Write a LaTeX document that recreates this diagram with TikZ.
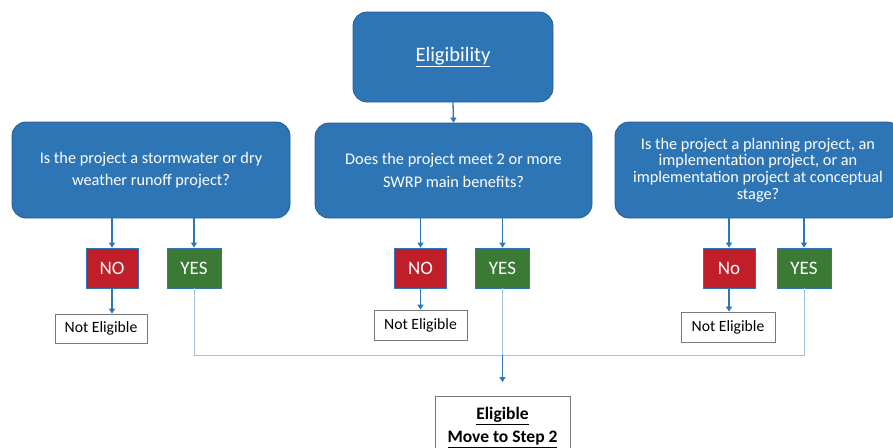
\documentclass[tikz,border=0pt]{standalone}
\usepackage{fontspec}
\setmainfont{Carlito}
\usetikzlibrary{arrows.meta}
\definecolor{boxblue}{RGB}{46,117,182}
\definecolor{boxedge}{RGB}{36,94,150}
\definecolor{nored}{RGB}{192,30,40}
\definecolor{yesgreen}{RGB}{58,122,52}
\definecolor{lineblue}{RGB}{160,195,225}
\definecolor{edgegray}{RGB}{120,120,120}
\tikzset{
  qbox/.style={draw=boxedge, line width=0.8pt, fill=boxblue, rounded corners=14pt, text=white, font=\fontsize{16.3}{22.5}\selectfont, align=center, inner sep=0pt},
  nobox/.style={draw=boxblue, line width=0.8pt, fill=nored, text=white, minimum width=52pt, minimum height=40pt, inner sep=0pt, font=\fontsize{19}{22}\selectfont},
  yesbox/.style={draw=boxblue, line width=0.8pt, fill=yesgreen, text=white, minimum width=54pt, minimum height=40pt, inner sep=0pt, font=\fontsize{19}{22}\selectfont},
  nebox/.style={draw=edgegray, line width=0.8pt, fill=white, text=black, inner sep=0pt, font=\fontsize{15.7}{18}\selectfont},
  arr/.style={draw=boxblue, line width=1.3pt, -{Triangle[width=6pt,length=5pt]}},
  thin/.style={draw=lineblue, line width=0.9pt}
}
\begin{document}
\begin{tikzpicture}[x=1pt,y=-1pt]
\useasboundingbox (0,0) rectangle (893,447);
\clip (0,0) rectangle (893,447);
% top box
\node[qbox, minimum width=200pt, minimum height=90pt, font=\fontsize{20.5}{24}\selectfont] (elig) at (453,57) {\underline{Eligibility}};
% question boxes
\node[qbox, minimum width=278pt, minimum height=96pt] (q1) at (151,170) {Is the project a stormwater or dry\\weather runoff project?};
\node[qbox, minimum width=277pt, minimum height=95pt] (q2) at (453.5,170.5) {Does the project meet 2 or more\\SWRP main benefits?};
\node[qbox, minimum width=286pt, minimum height=96pt, font=\fontsize{16.3}{16.8}\selectfont] (q3) at (758,170) {Is the project a planning project, an\\implementation project, or an\\implementation project at conceptual\\stage?};
% NO / YES
\node[nobox] (no1) at (112,268) {NO};
\node[yesbox] (yes1) at (194,268) {YES};
\node[nobox] (no2) at (420.5,268) {NO};
\node[yesbox] (yes2) at (502.5,268) {YES};
\node[nobox] (no3) at (729,268) {No};
\node[yesbox] (yes3) at (804,268) {YES};
% Not eligible
\node[nebox, minimum width=92pt, minimum height=29pt] (ne1) at (101,328.5) {Not Eligible};
\node[nebox, minimum width=93pt, minimum height=30pt] (ne2) at (420.5,325) {Not Eligible};
\node[nebox, minimum width=94pt, minimum height=30pt] (ne3) at (728,327) {Not Eligible};
% final
\node[nebox, minimum width=135pt, minimum height=62pt, anchor=north, font=\bfseries\fontsize{17.5}{23}\selectfont, align=center] (fin) at (502.5,396) {\underline{Eligible}\\\underline{Move to Step 2}};
% connectors
\draw[arr] (elig.south) -- (q2.north);
\draw[arr] (q1.south -| no1) -- (no1.north);
\draw[arr] (q1.south -| yes1) -- (yes1.north);
\draw[arr] (q2.south -| no2) -- (no2.north);
\draw[arr] (q2.south -| yes2) -- (yes2.north);
\draw[arr] (q3.south -| no3) -- (no3.north);
\draw[arr] (q3.south -| yes3) -- (yes3.north);
\draw[arr] (no1.south) -- (no1.south |- ne1.north);
\draw[arr] (no2.south) -- (ne2.north);
\draw[arr] (no3.south) -- (no3.south |- ne3.north);
\coordinate (bus) at (502.5,355);
\draw[thin] (yes1.south) -- (yes1.south |- bus) -- (yes3.south |- bus) -- (yes3.south);
\draw[thin] (yes2.south) -- (bus);
\draw[arr, shorten >=14pt] (bus) -- (fin.north);
\end{tikzpicture}
\end{document}
